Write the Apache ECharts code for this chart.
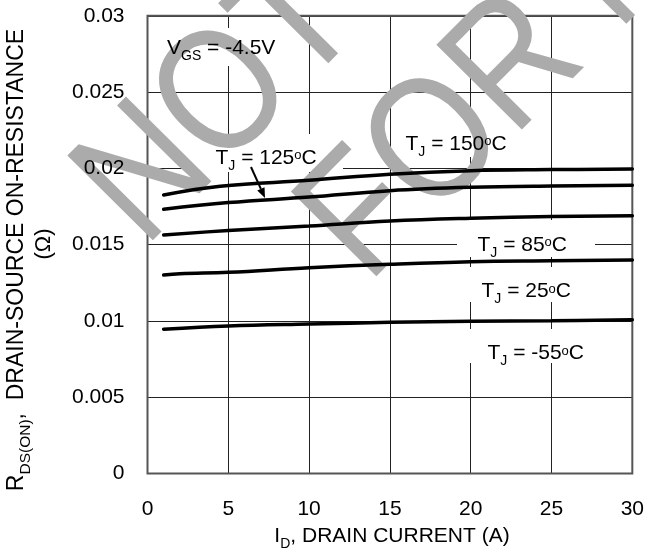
<!DOCTYPE html>
<html><head><meta charset="utf-8">
<script src="https://cdn.jsdelivr.net/npm/echarts@6/dist/echarts.min.js"></script>
<style>html,body{margin:0;padding:0;background:#fff}#c{width:647px;height:548px}</style>
</head><body><div id="c"></div>
<script>
// ---- data ----
const xTickStep = 5;
const yTickStep = 0.005;
const id150 = [1, 4.5, 10, 15, 20, 25, 30];
const r150  = [0.01826, 0.01883, 0.01922, 0.01962, 0.01985, 0.01992, 0.01996];
const id125 = [1, 5, 10, 15, 20, 25, 30];
const r125  = [0.01732, 0.01776, 0.01812, 0.01854, 0.01876, 0.01885, 0.01889];
const id85  = [1, 5, 10, 15, 20, 25, 30];
const r85   = [0.01564, 0.01593, 0.01623, 0.01655, 0.01673, 0.01684, 0.01690];
const id25  = [1, 2, 5, 10, 15, 20, 25, 30];
const r25   = [0.01301, 0.01310, 0.01319, 0.01349, 0.01372, 0.01389, 0.01395, 0.01400];
const idm55 = [1, 5, 10, 15, 20, 25, 30];
const rm55  = [0.00946, 0.00967, 0.00980, 0.00991, 0.00998, 0.01002, 0.01008];
const seriesNames = ['TJ = 150°C', 'TJ = 125°C', 'TJ = 85°C', 'TJ = 25°C', 'TJ = -55°C'];

const FONT = '"Liberation Sans", Arial, Helvetica, sans-serif';
const chart = echarts.init(document.getElementById('c'), null, {renderer: 'canvas'});

function pairs(xs, ys) { return xs.map((x, i) => [x, ys[i]]); }
const curves = [[id150, r150], [id125, r125], [id85, r85], [id25, r25], [idm55, rm55]];

const rich = {
  t: {fontSize: 21, fontFamily: FONT, lineHeight: 24, verticalAlign: 'middle', fill: '#000'},
  s: {fontSize: 14, fontFamily: FONT, lineHeight: 14, padding: [16, 0, 0, 0], verticalAlign: 'middle', fill: '#000'},
  o: {fontSize: 13, fontFamily: FONT, lineHeight: 13, padding: [0, 0, 5, 0], verticalAlign: 'middle', fill: '#000'}
};
const richY = {
  t: {fontSize: 23, fontFamily: FONT, lineHeight: 26, verticalAlign: 'middle', fill: '#000'},
  s: {fontSize: 15.5, fontFamily: FONT, lineHeight: 15, padding: [17, 0, 0, 0], verticalAlign: 'middle', fill: '#000'}
};

function label(text, x, y, z) {
  return {type: 'text', x: x, y: y, z: z || 6, silent: true,
    style: {text: text, rich: rich, fill: '#000', font: '21px ' + FONT,
      align: 'left', textAlign: 'left', verticalAlign: 'middle', textVerticalAlign: 'middle'}};
}
function bg(x, y, w, h) {
  return {type: 'rect', z: 1, silent: true, shape: {x: x, y: y, width: w, height: h}, style: {fill: '#fff'}};
}
function water(text, x, y) {
  return {type: 'text', x: x, y: y, rotation: 0.79, scaleX: 0.85, scaleY: 1, z: 3, silent: true,
    style: {text: text, fill: '#ababab', font: '175px ' + FONT,
      align: 'left', textAlign: 'left', verticalAlign: 'middle', textVerticalAlign: 'middle'}};
}
// arrow
const tip = [265, 198], tail = [251, 167];
const dx = tip[0] - tail[0], dy = tip[1] - tail[1], L = Math.hypot(dx, dy);
const ux = dx / L, uy = dy / L, bx = tip[0] - ux * 10, by = tip[1] - uy * 10;

const yBase = {type: 'value', min: 0, max: 0.03, interval: yTickStep, position: 'left',
  axisLine: {show: false}, axisTick: {show: false}};

const option = {
  animation: false,
  backgroundColor: '#fff',
  grid: {left: 147.5, right: 11.3, top: 15.8, bottom: 74.4, show: true, borderColor: '#555', borderWidth: 2, z: 2},
  xAxis: {type: 'value', min: 0, max: 30, interval: xTickStep,
    axisLine: {show: false}, axisTick: {show: false},
    splitLine: {show: true, lineStyle: {color: '#222', width: 1}},
    axisLabel: {color: '#000', fontSize: 21, fontFamily: FONT, margin: 25}},
  yAxis: [
    Object.assign({}, yBase, {z: 0, axisLabel: {show: false},
      splitLine: {show: true, lineStyle: {color: '#222', width: 1}}}),
    Object.assign({}, yBase, {z: 7, offset: 0, splitLine: {show: false},
      axisLabel: {color: '#000', fontSize: 21, fontFamily: FONT, margin: 23}})
  ],
  series: curves.map((c, i) => ({
    name: seriesNames[i], type: 'line', data: pairs(c[0], c[1]), smooth: 0.4, yAxisIndex: 0,
    showSymbol: false, symbol: 'none', z: 5,
    lineStyle: {color: '#000', width: 3.5, cap: 'round'}
  })),
  graphic: {elements: [
    bg(155, 28, 135, 38),
    bg(392, 120, 138, 37),
    bg(195, 134, 148, 38),
    bg(457, 220, 138, 37),
    bg(462, 267, 130, 35),
    bg(466, 329, 132, 34),
    water('NOT', 110, 215),
    water('FOR NEW DESIGN', 333.5, 251),
    label('{t|V}{s|GS}{t| = -4.5V}', 167, 48),
    label('{t|T}{s|J}{t| = 150}{o|o}{t|C}', 405.5, 144),
    label('{t|T}{s|J}{t| = 125}{o|o}{t|C}', 215.5, 158),
    label('{t|T}{s|J}{t| = 85}{o|o}{t|C}', 477.5, 245),
    label('{t|T}{s|J}{t| = 25}{o|o}{t|C}', 481.5, 291.5),
    label('{t|T}{s|J}{t| = -55}{o|o}{t|C}', 487.5, 353.5),
    {type: 'line', z: 6, silent: true, shape: {x1: tail[0], y1: tail[1], x2: bx, y2: by}, style: {stroke: '#000', lineWidth: 2}},
    {type: 'polygon', z: 6, silent: true, shape: {points: [tip, [bx - uy * 4, by + ux * 4], [bx + uy * 4, by - ux * 4]]}, style: {fill: '#000'}},
    {type: 'text', x: 392, y: 536, z: 6, silent: true,
      style: {text: '{t|I}{s|D}{t|, DRAIN CURRENT (A)}', rich: rich, fill: '#000', font: '21px ' + FONT,
        align: 'center', textAlign: 'center', verticalAlign: 'middle', textVerticalAlign: 'middle'}},
    {type: 'text', x: 17, y: 260, rotation: Math.PI / 2, z: 6, silent: true,
      style: {text: '{t|R}{s|DS(ON)}{t|,  DRAIN-SOURCE ON-RESISTANCE}', rich: richY, fill: '#000', font: '23px ' + FONT,
        align: 'center', textAlign: 'center', verticalAlign: 'middle', textVerticalAlign: 'middle'}},
    {type: 'text', x: 44, y: 244, rotation: Math.PI / 2, z: 6, silent: true,
      style: {text: '(Ω)', fill: '#000', font: '22px ' + FONT,
        align: 'center', textAlign: 'center', verticalAlign: 'middle', textVerticalAlign: 'middle'}}
  ]}
};
chart.setOption(option);
</script></body></html>
